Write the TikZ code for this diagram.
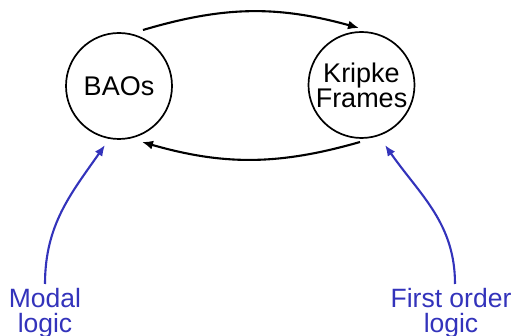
\documentclass[tikz,border=0pt]{standalone}
\usepackage{fontspec}
\setmainfont{Liberation Sans}
\usetikzlibrary{arrows.meta}
\definecolor{logicblue}{RGB}{51,51,187}
\begin{document}
\begin{tikzpicture}[x=1pt,y=1pt,
  world/.style={draw=black,line width=1.7pt,circle,minimum size=106pt,inner sep=0pt,outer sep=0pt,
    font=\fontsize{27}{25}\selectfont,align=center},
  maparrow/.style={line width=2.1pt,-{Latex[length=11pt,width=9pt]}},
  logicarrow/.style={draw=logicblue,line width=2.1pt,-{Latex[length=11pt,width=9pt]}},
  logiclabel/.style={text=logicblue,font=\fontsize{26.5}{25}\selectfont,align=center,inner sep=0pt,anchor=north}]
\useasboundingbox (0,0) rectangle (518,336);
\node[world] (bao) at (119,250) {BAOs};
\node[world] (kf) at (361.5,251) {Kripke\\Frames};
\coordinate (t1) at (143,306);
\coordinate (t2) at (359,308);
\coordinate (b1) at (360,194);
\coordinate (b2) at (142,194);
\draw[maparrow] (t1) to[bend left=16] (t2);
\draw[maparrow] (b1) to[bend left=16] (b2);
\node[logiclabel] (ml) at (45,48) {Modal\\logic};
\node[logiclabel] (fo) at (451,48) {First order\\logic};
\coordinate (mlend) at (105,191);
\coordinate (foend) at (385,191);
\draw[logicarrow] ([yshift=4pt]ml.north) to[out=90,in=-125] (mlend);
\draw[logicarrow] ([xshift=4pt,yshift=4pt]fo.north) to[out=90,in=-55] (foend);
\end{tikzpicture}
\end{document}
